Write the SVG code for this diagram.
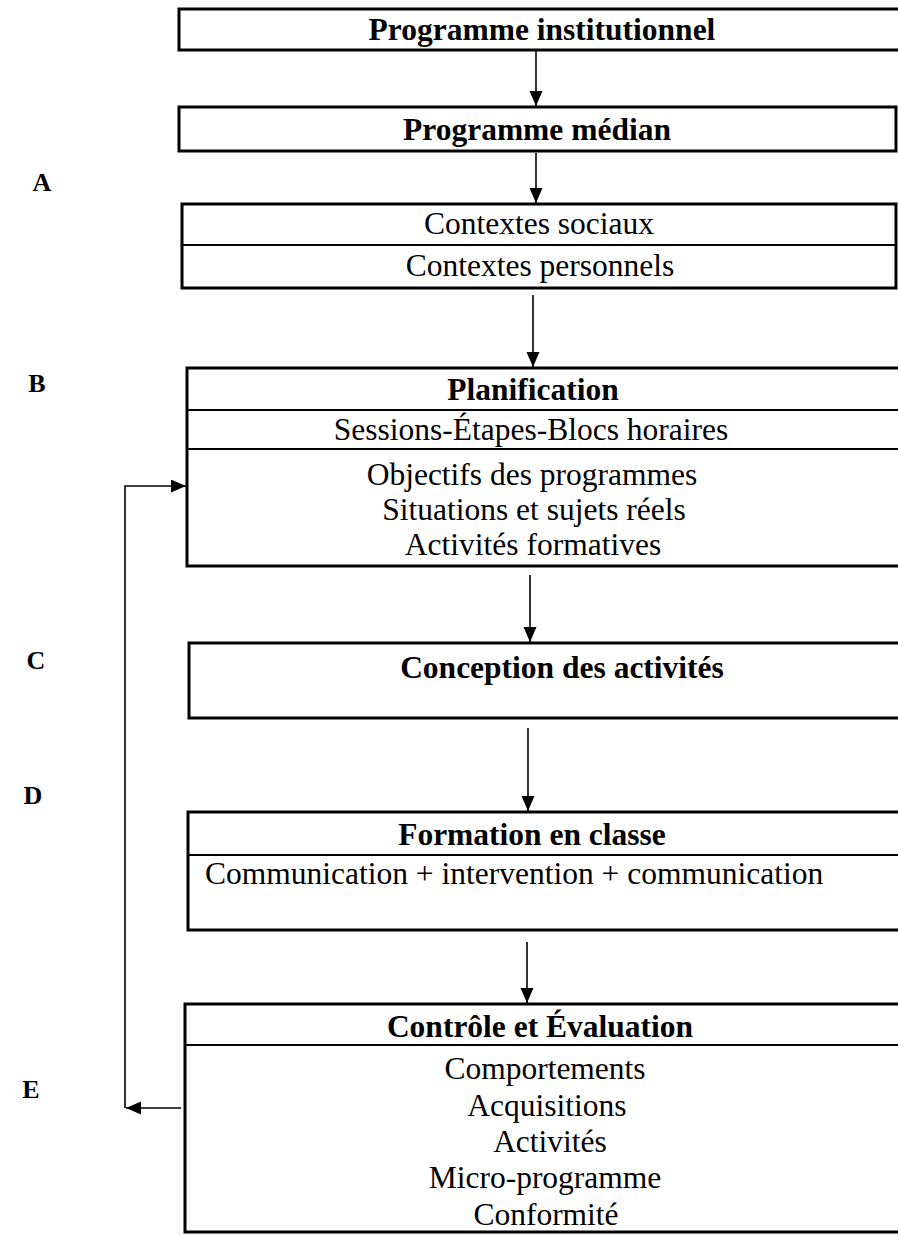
<svg xmlns="http://www.w3.org/2000/svg" width="898" height="1236" viewBox="0 0 898 1236">
<defs>
<style>
.box{fill:#fff;stroke:#000;stroke-width:3}
.div{stroke:#000;stroke-width:2;fill:none}
.con{stroke:#000;stroke-width:1.6;fill:none}
.t{font-family:"Liberation Serif","Times New Roman",serif;font-size:31.5px;fill:#000;text-anchor:middle}
.b{font-weight:bold}
.lbl{font-family:"Liberation Serif","Times New Roman",serif;font-size:26px;font-weight:bold;fill:#000;text-anchor:middle}
</style>
<marker id="ah" markerUnits="userSpaceOnUse" markerWidth="16" markerHeight="14" refX="15" refY="6.5" orient="auto">
<path d="M0,0 L15,6.5 L0,13 z" fill="#000"/>
</marker>
</defs>
<rect width="898" height="1236" fill="#fff"/>

<g id="labels">
<text class="lbl" x="42" y="191">A</text>
<text class="lbl" x="37" y="392">B</text>
<text class="lbl" x="36" y="669">C</text>
<text class="lbl" x="33" y="804">D</text>
<text class="lbl" x="31" y="1098">E</text>
</g>

<g id="connectors">
<line class="con" x1="536" y1="51" x2="536" y2="106" marker-end="url(#ah)"/>
<line class="con" x1="536" y1="153" x2="536" y2="203" marker-end="url(#ah)"/>
<line class="con" x1="533" y1="295" x2="533" y2="367" marker-end="url(#ah)"/>
<line class="con" x1="530" y1="575" x2="530" y2="642" marker-end="url(#ah)"/>
<line class="con" x1="528" y1="728" x2="528" y2="811" marker-end="url(#ah)"/>
<line class="con" x1="527" y1="942" x2="527" y2="1003" marker-end="url(#ah)"/>
<line class="con" x1="181" y1="1108" x2="126" y2="1108" marker-end="url(#ah)"/>
<polyline class="con" points="125,1108 125,486 186,486" marker-end="url(#ah)"/>
</g>

<g id="n1">
<rect class="box" x="179" y="9" width="730" height="41"/>
<text class="t b" x="542" y="40">Programme institutionnel</text>
</g>

<g id="n2">
<rect class="box" x="179" y="107" width="717" height="44"/>
<text class="t b" x="537" y="140">Programme médian</text>
</g>

<g id="n3">
<rect class="box" x="182" y="204" width="714" height="84"/>
<line class="div" x1="182" y1="245" x2="896" y2="245"/>
<text class="t" x="539" y="234">Contextes sociaux</text>
<text class="t" x="540" y="276">Contextes personnels</text>
</g>

<g id="n4">
<rect class="box" x="187" y="368" width="730" height="198"/>
<line class="div" x1="187" y1="410" x2="898" y2="410"/>
<line class="div" x1="187" y1="449" x2="898" y2="449"/>
<text class="t b" x="533" y="400">Planification</text>
<text class="t" x="531" y="440">Sessions-Étapes-Blocs horaires</text>
<text class="t" x="532" y="485">Objectifs des programmes</text>
<text class="t" x="534" y="520">Situations et sujets réels</text>
<text class="t" x="533" y="555">Activités formatives</text>
</g>

<g id="n5">
<rect class="box" x="189" y="643" width="730" height="75"/>
<text class="t b" x="562" y="678">Conception des activités</text>
</g>

<g id="n6">
<rect class="box" x="188" y="812" width="730" height="118"/>
<line class="div" x1="188" y1="855" x2="898" y2="855"/>
<text class="t b" x="532" y="845">Formation en classe</text>
<text class="t" x="205" y="884" style="text-anchor:start">Communication + intervention + communication</text>
</g>

<g id="n7">
<rect class="box" x="185" y="1004" width="730" height="228"/>
<line class="div" x1="185" y1="1045" x2="898" y2="1045"/>
<text class="t b" x="540" y="1037">Contrôle et Évaluation</text>
<text class="t" x="545" y="1079">Comportements</text>
<text class="t" x="547" y="1116">Acquisitions</text>
<text class="t" x="550" y="1152">Activités</text>
<text class="t" x="545" y="1188">Micro-programme</text>
<text class="t" x="546" y="1225">Conformité</text>
</g>
</svg>
